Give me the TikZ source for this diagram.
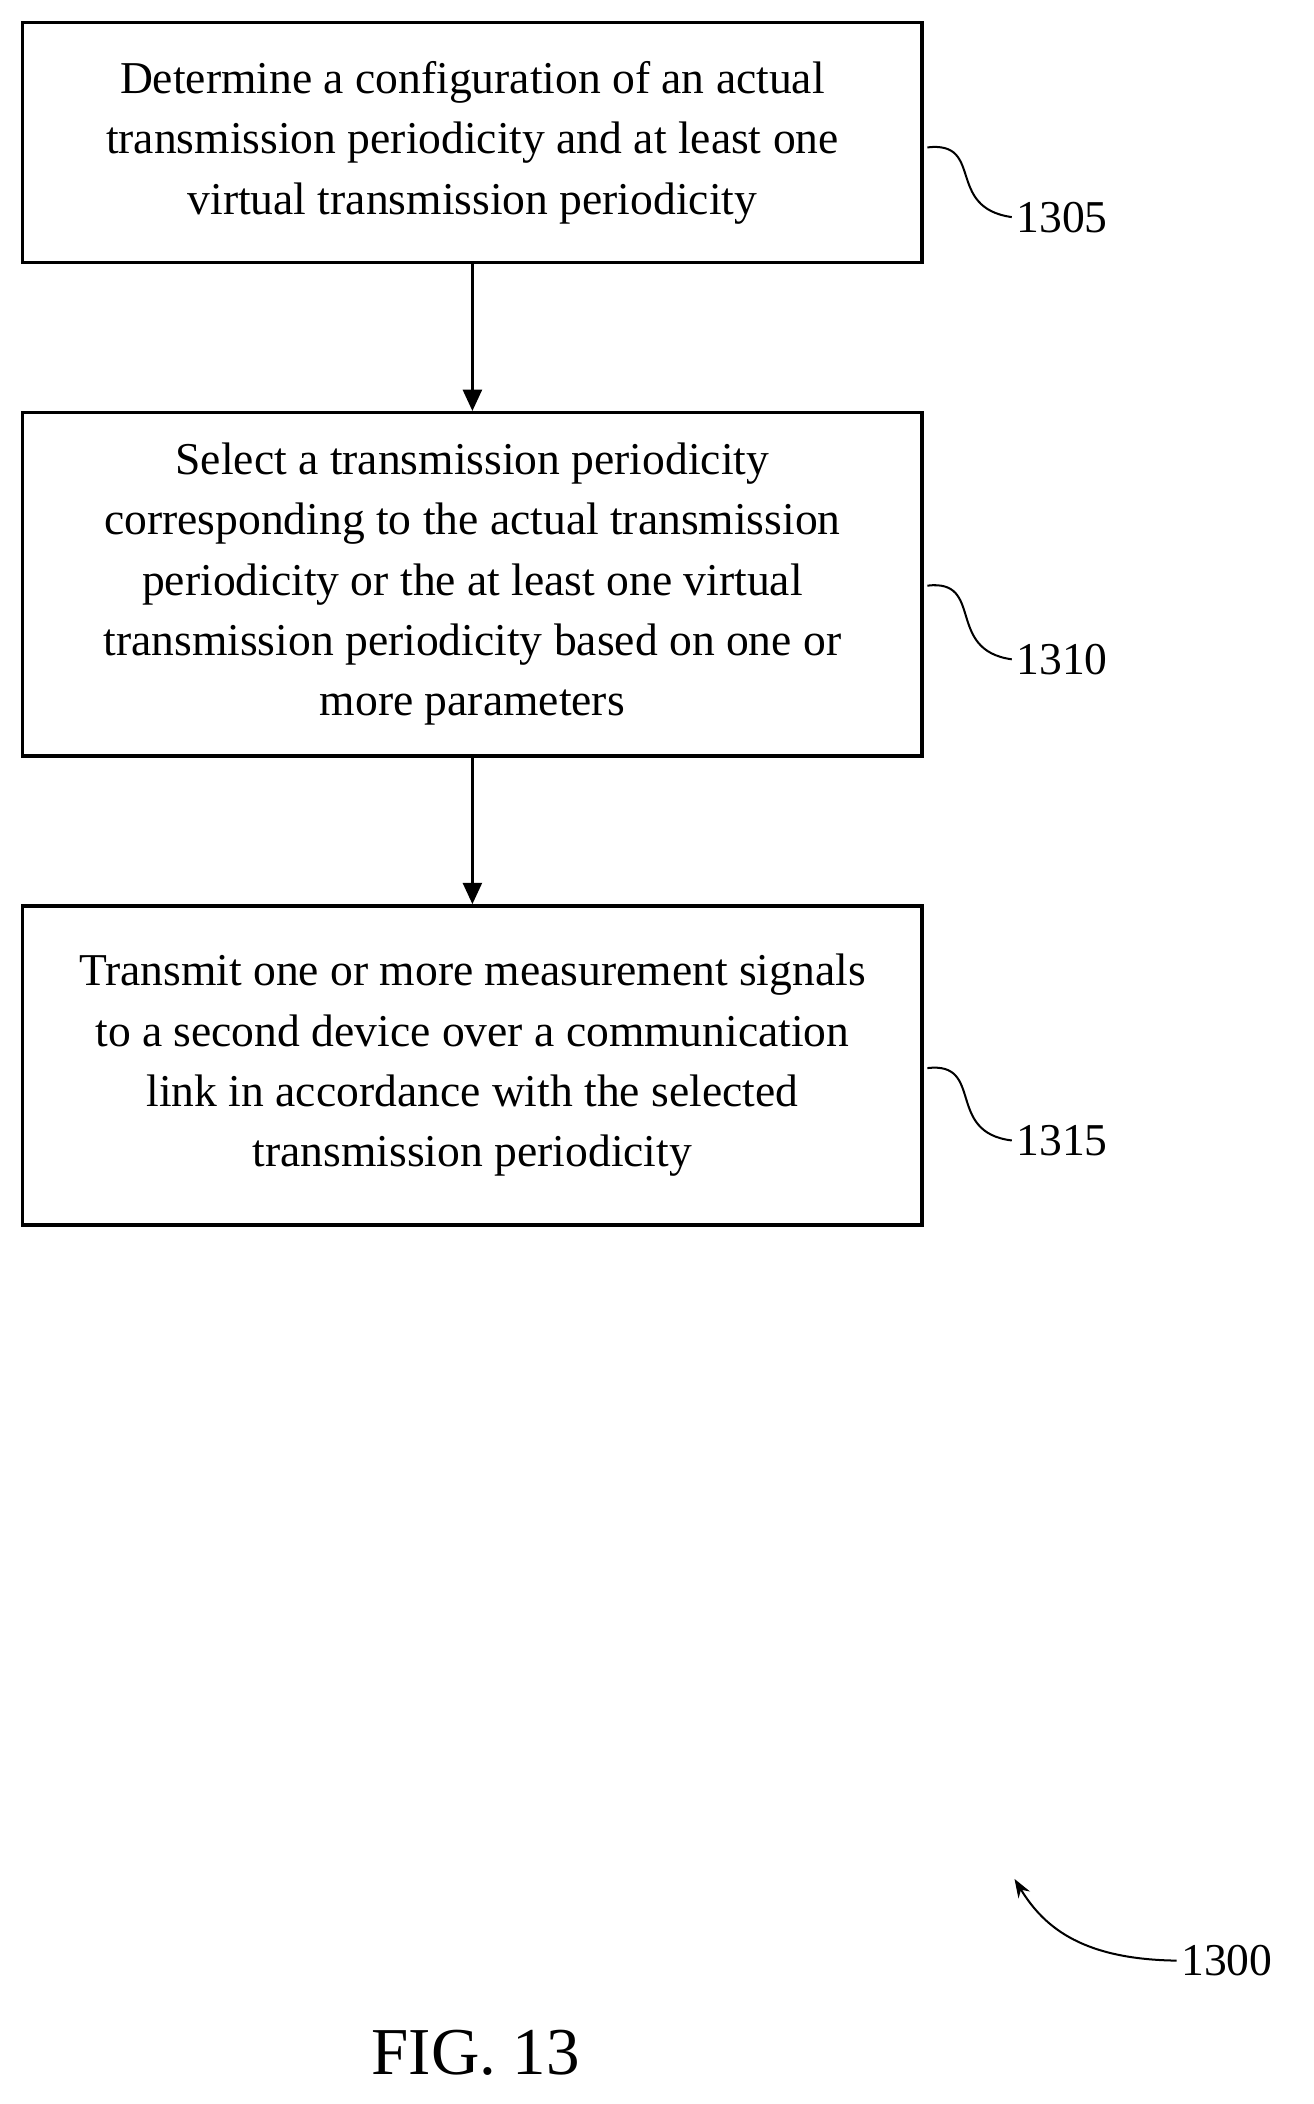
\documentclass[tikz,border=0pt]{standalone}
\usepackage{fontspec}
\setmainfont{Liberation Serif}
\usetikzlibrary{arrows.meta}
\begin{document}
\begin{tikzpicture}[x=1pt,y=-1pt,
  stepbox/.style={draw,line width=2.5pt,align=center,font=\fontsize{34}{45}\selectfont,inner sep=0pt},
  lbl/.style={font=\fontsize{34}{40}\selectfont,anchor=west},
  arr/.style={line width=2.5pt,-{Triangle[length=16pt,width=14pt]}},
  sq/.style={line width=1.5pt}]
\useasboundingbox (0,0) rectangle (980,1570);
\node[stepbox,minimum width=671pt,minimum height=179pt] (b1) at (352.5,106.5) {Determine a configuration of an actual\\transmission periodicity and at least one\\virtual transmission periodicity};
\node[stepbox,minimum width=671pt,minimum height=256pt] (b2) at (352.5,436) {Select a transmission periodicity\\corresponding to the actual transmission\\periodicity or the at least one virtual\\transmission periodicity based on one or\\more parameters};
\node[stepbox,minimum width=671pt,minimum height=238pt] (b3) at (352.5,795) {Transmit one or more measurement signals\\to a second device over a communication\\link in accordance with the selected\\transmission periodicity};
\draw[arr] (b1) -- (b2);
\draw[arr] (b2) -- (b3);
\node[lbl] (l1) at (755,162) {1305};
\node[lbl] (l2) at (755,492) {1310};
\node[lbl] (l3) at (755,851) {1315};
\draw[sq] (692,110) .. controls (735,105) and (705,155) .. (l1.west);
\draw[sq] (692,437) .. controls (735,432) and (705,485) .. (l2.west);
\draw[sq] (692,797) .. controls (735,792) and (705,845) .. (l3.west);
\node[lbl] (l4) at (878,1463) {1300};
\coordinate (t4) at (757,1402);
\draw[line width=1.5pt,-{Stealth[length=14pt,width=10pt]}] (l4.west) .. controls (810,1462) and (780,1440) .. (t4);
\node[font=\fontsize{50}{56}\selectfont] (fig) at (355,1532) {FIG. 13};
\end{tikzpicture}
\end{document}
